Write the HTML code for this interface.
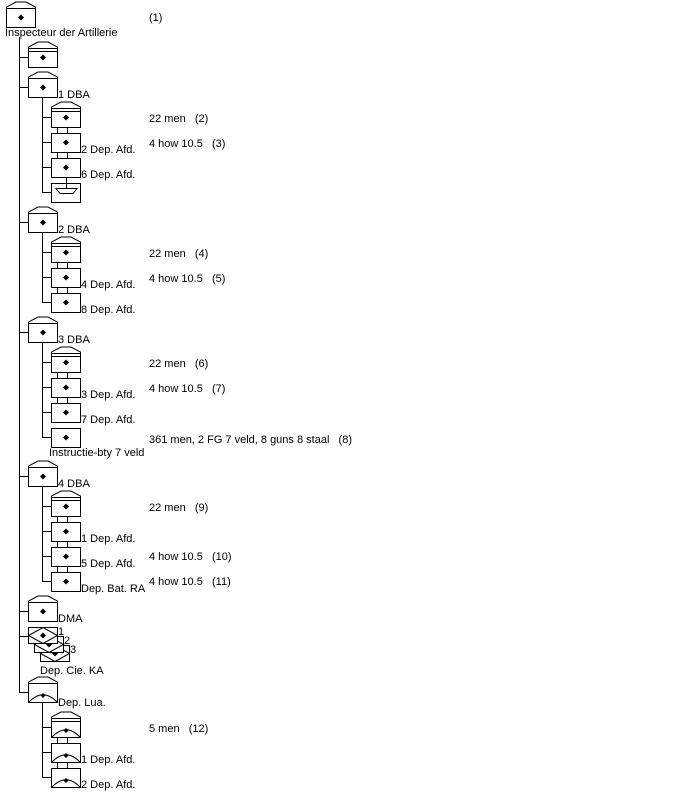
<!DOCTYPE html>
<html><head><meta charset="utf-8"><style>
html,body{margin:0;padding:0;background:#fff;}
svg{display:block;}
text{font-family:"Liberation Sans",Arial,sans-serif;font-size:11px;fill:#000;}
</style></head><body>
<svg width="681" height="798" viewBox="0 0 681 798" xmlns="http://www.w3.org/2000/svg">
<defs>
<g id="b"><rect x="0.5" y="0.5" width="29" height="19" fill="#fff" stroke="#000"/><path d="M15,6.5 L18,9.5 L15,12.5 L12,9.5Z" fill="#000"/></g>
<g id="r"><path d="M0.5,0.5 L0.5,-1 L10,-6 L20,-6 L29.5,-1 L29.5,0.5" fill="none" stroke="#000"/></g>
<g id="h"><use href="#r"/><use href="#b"/><line x1="0.5" y1="3.5" x2="29.5" y2="3.5" stroke="#000"/></g>
<g id="k"><line x1="6.5" y1="-6" x2="6.5" y2="0" stroke="#000"/><line x1="16.5" y1="-6" x2="16.5" y2="0" stroke="#000"/></g>
<g id="lb"><rect x="0.5" y="0.5" width="29" height="19" fill="#fff" stroke="#000"/><path d="M0.5,19.5 Q15,4 29.5,19.5" fill="none" stroke="#000"/><path d="M15,10 L17.5,12.5 L15,15 L12.5,12.5Z" fill="#000"/></g>
<g id="d"><rect x="0.5" y="0.5" width="29" height="16" fill="#fff" stroke="#000"/><path d="M0.5,8.5 L15,0.5 L29.5,8.5 L15,16.5Z" fill="none" stroke="#000"/><path d="M15,5.5 L18,8.5 L15,11.5 L12,8.5Z" fill="#000"/></g>
</defs>
<g stroke="#000" fill="none">
<line x1="19.5" y1="37" x2="19.5" y2="693"/>
<line x1="42.5" y1="98" x2="42.5" y2="192"/>
<line x1="42.5" y1="232" x2="42.5" y2="302"/>
<line x1="42.5" y1="342" x2="42.5" y2="437"/>
<line x1="42.5" y1="486" x2="42.5" y2="581"/>
<line x1="42.5" y1="702" x2="42.5" y2="777"/>
<path d="M19,57.5H28M19,87.5H28M19,222.5H28M19,332.5H28M19,476.5H28M19,611.5H28M19,636.5H28M19,692.5H28"/>
<path d="M42,117.5H51M42,142.5H51M42,167.5H51M42,192.5H51M42,252.5H51M42,277.5H51M42,302.5H51M42,362.5H51M42,387.5H51M42,412.5H51M42,437.5H51M42,506.5H51M42,531.5H51M42,556.5H51M42,581.5H51M42,727.5H51M42,752.5H51M42,777.5H51"/>
</g>
<use href="#r" x="6" y="8"/><use href="#b" x="6" y="8"/>
<text x="149" y="21">(1)</text>
<text x="5" y="36">Inspecteur der Artillerie</text>
<use href="#h" x="28" y="48"/>
<use href="#r" x="28" y="78"/><use href="#b" x="28" y="78"/><text x="58" y="98">1 DBA</text>
<use href="#h" x="51" y="108"/><text x="149" y="122">22 men &#160; (2)</text>
<use href="#k" x="51" y="133"/><use href="#b" x="51" y="133"/><text x="81" y="153">2 Dep. Afd.</text><text x="149" y="147">4 how 10.5 &#160; (3)</text>
<use href="#k" x="51" y="158"/><use href="#b" x="51" y="158"/><text x="81" y="178">6 Dep. Afd.</text>
<g><rect x="51.5" y="183.5" width="29" height="19" fill="#fff" stroke="#000"/><line x1="66.5" y1="178" x2="66.5" y2="188" stroke="#000"/><path d="M56,188.5 H77 L73,193.5 H60Z" fill="none" stroke="#000"/></g>
<use href="#r" x="28" y="213"/><use href="#b" x="28" y="213"/><text x="58" y="233">2 DBA</text>
<use href="#h" x="51" y="243"/><text x="149" y="257">22 men &#160; (4)</text>
<use href="#k" x="51" y="268"/><use href="#b" x="51" y="268"/><text x="81" y="288">4 Dep. Afd.</text><text x="149" y="282">4 how 10.5 &#160; (5)</text>
<use href="#k" x="51" y="293"/><use href="#b" x="51" y="293"/><text x="81" y="313">8 Dep. Afd.</text>
<use href="#r" x="28" y="323"/><use href="#b" x="28" y="323"/><text x="58" y="343">3 DBA</text>
<use href="#h" x="51" y="353"/><text x="149" y="367">22 men &#160; (6)</text>
<use href="#k" x="51" y="378"/><use href="#b" x="51" y="378"/><text x="81" y="398">3 Dep. Afd.</text><text x="149" y="392">4 how 10.5 &#160; (7)</text>
<use href="#k" x="51" y="403"/><use href="#b" x="51" y="403"/><text x="81" y="423">7 Dep. Afd.</text>
<use href="#b" x="51" y="428"/><text x="149" y="443">361 men, 2 FG 7 veld, 8 guns 8 staal &#160; (8)</text>
<text x="49" y="456">Instructie-bty 7 veld</text>
<use href="#r" x="28" y="467"/><use href="#b" x="28" y="467"/><text x="58" y="487">4 DBA</text>
<use href="#h" x="51" y="497"/><text x="149" y="511">22 men &#160; (9)</text>
<use href="#k" x="51" y="522"/><use href="#b" x="51" y="522"/><text x="81" y="542">1 Dep. Afd.</text>
<use href="#k" x="51" y="547"/><use href="#b" x="51" y="547"/><text x="81" y="567">5 Dep. Afd.</text><text x="149" y="560">4 how 10.5 &#160; (10)</text>
<use href="#k" x="51" y="572"/><use href="#b" x="51" y="572"/><text x="81" y="592">Dep. Bat. RA</text><text x="149" y="585">4 how 10.5 &#160; (11)</text>
<use href="#r" x="28" y="602"/><use href="#b" x="28" y="602"/><text x="58" y="622">DMA</text>
<use href="#d" x="40" y="645"/><use href="#d" x="34" y="636"/><use href="#d" x="28" y="627"/>
<text x="58" y="635">1</text><text x="64" y="644">2</text><text x="70" y="653">3</text>
<text x="40" y="674">Dep. Cie. KA</text>
<use href="#r" x="28" y="683"/><use href="#lb" x="28" y="683"/><text x="58" y="706">Dep. Lua.</text>
<use href="#r" x="51" y="718"/><use href="#lb" x="51" y="718"/><line x1="51" y1="721.5" x2="80" y2="721.5" stroke="#000"/><text x="149" y="732">5 men &#160; (12)</text>
<use href="#k" x="51" y="743"/><use href="#lb" x="51" y="743"/><text x="81" y="763">1 Dep. Afd.</text>
<use href="#k" x="51" y="768"/><use href="#lb" x="51" y="768"/><text x="81" y="788">2 Dep. Afd.</text>
</svg>
</body></html>
